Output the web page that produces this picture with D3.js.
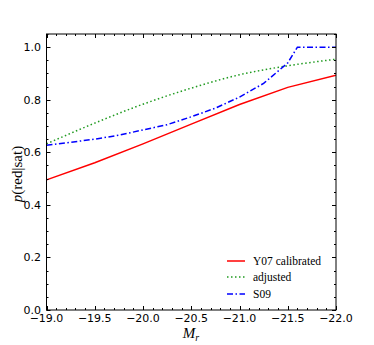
<!DOCTYPE html>
<html><head><meta charset="utf-8">
<script src="https://cdn.jsdelivr.net/npm/d3@7"></script>
<style>body{margin:0;background:#fff}svg{display:block}</style>
</head><body>
<script>
const xTicks = [-19.0, -19.5, -20.0, -20.5, -21.0, -21.5, -22.0];
const yTicks = [0.0, 0.2, 0.4, 0.6, 0.8, 1.0];
const seriesNames = ["Y07 calibrated", "adjusted", "S09"];
const magRed = [-19.0, -19.5, -20.0, -20.5, -21.0, -21.5, -22.0];
const y07 = [0.495, 0.560, 0.632, 0.707, 0.782, 0.847, 0.893];
const magGreen = [-19.0, -19.5, -20.0, -20.5, -21.0, -21.5, -22.0];
const adjusted = [0.632, 0.711, 0.783, 0.844, 0.895, 0.929, 0.954];
const magBlue = [-19.0, -19.25, -19.5, -19.75, -20.0, -20.25, -20.5, -20.75, -21.0, -21.25, -21.5, -21.6, -22.0];
const s09 = [0.627, 0.638, 0.650, 0.665, 0.685, 0.705, 0.735, 0.768, 0.810, 0.862, 0.940, 1.0, 1.0];

const W = 374, H = 345;
const L = 46.5, R = 336, T = 34, B = 310;
const svg = d3.select("body").append("svg").attr("width", W).attr("height", H);
const x = d3.scaleLinear().domain([-19, -22]).range([L, R]);
const y = d3.scaleLinear().domain([0, 1.05]).range([B, T]);

const g = svg.append("g");
const clipId = "clip";
svg.append("clipPath").attr("id", clipId).append("rect").attr("x", L).attr("y", T).attr("width", R - L).attr("height", B - T);

const line = d3.line().x(d => x(d[0])).y(d => y(d[1]));
const lineSmooth = d3.line().x(d => x(d[0])).y(d => y(d[1])).curve(d3.curveMonotoneX);
const zip = (a, b) => a.map((v, i) => [v, b[i]]);
const lines = g.append("g").attr("clip-path", `url(#${clipId})`);
lines.append("path").attr("d", line(zip(magRed, y07))).attr("fill", "none").attr("stroke", "#ff0000").attr("stroke-width", 1.5);
lines.append("path").attr("d", lineSmooth(zip(magGreen, adjusted))).attr("fill", "none").attr("stroke", "#1f9a1f").attr("stroke-width", 1.5).attr("stroke-dasharray", "1.5,2.5");
lines.append("path").attr("d", line(zip(magBlue, s09))).attr("fill", "none").attr("stroke", "#0000ff").attr("stroke-width", 1.5).attr("stroke-dasharray", "6,2.5,1.5,2.5");

// ticks (inside, all four sides)
const minorX = d3.range(-19, -22.0001, -0.1);
const minorY = d3.range(0, 1.05001, 0.05);
const tk = svg.append("g").attr("stroke", "#000").attr("stroke-width", 1);
const r5 = v => Math.round(v) + 0.5;
minorX.forEach(v => {
  const isMajor = Math.abs(v * 2 - Math.round(v * 2)) < 1e-6;
  const len = isMajor ? 4 : 2;
  const px = r5(x(v));
  tk.append("line").attr("x1", px).attr("x2", px).attr("y1", B).attr("y2", B - len);
  tk.append("line").attr("x1", px).attr("x2", px).attr("y1", T).attr("y2", T + len);
});
minorY.forEach(v => {
  const isMajor = Math.abs(v * 5 - Math.round(v * 5)) < 1e-6;
  const len = isMajor ? 4 : 2;
  const py = r5(y(v));
  tk.append("line").attr("y1", py).attr("y2", py).attr("x1", L).attr("x2", L + len);
  tk.append("line").attr("y1", py).attr("y2", py).attr("x1", R).attr("x2", R - len);
});

svg.append("rect").attr("x", L).attr("y", T).attr("width", R - L).attr("height", B - T)
  .attr("fill", "none").attr("stroke", "#000").attr("stroke-width", 1);

const fmt = v => (v < 0 ? "\u2212" : "") + Math.abs(v).toFixed(1);
const tickFont = "DejaVu Sans";
svg.append("g").selectAll("text").data(xTicks).join("text")
  .attr("x", d => x(d)).attr("y", 322).attr("text-anchor", "middle")
  .attr("font-family", tickFont).attr("font-size", 11).attr("fill", "#000").text(fmt);
svg.append("g").selectAll("text").data(yTicks).join("text")
  .attr("x", 41).attr("y", d => y(d) + 4).attr("text-anchor", "end")
  .attr("font-family", tickFont).attr("font-size", 11).attr("fill", "#000").text(fmt);

// axis labels
const xl = svg.append("text").attr("x", 191).attr("y", 338).attr("text-anchor", "middle")
  .attr("font-family", "Liberation Serif, DejaVu Serif, serif").attr("font-size", 15).attr("fill", "#000");
xl.append("tspan").attr("font-style", "italic").text("M");
xl.append("tspan").attr("font-style", "italic").attr("font-size", 10).attr("dy", 3).text("r");

const yl = svg.append("text").attr("transform", "translate(22,174) rotate(-90)").attr("text-anchor", "middle")
  .attr("font-family", "Liberation Serif, DejaVu Serif, serif").attr("font-size", 15).attr("fill", "#000");
yl.append("tspan").attr("font-style", "italic").text("p");
yl.append("tspan").text("(red|sat)");

// legend
const legY = [261, 277, 294];
const legStyles = [
  {c: "#ff0000", d: null},
  {c: "#1f9a1f", d: "1.5,2.5"},
  {c: "#0000ff", d: "6,2.5,1.5,2.5"}
];
const leg = svg.append("g");
seriesNames.forEach((n, i) => {
  const l = leg.append("line").attr("x1", 227).attr("x2", 245).attr("y1", legY[i]).attr("y2", legY[i])
    .attr("stroke", legStyles[i].c).attr("stroke-width", 1.5);
  if (legStyles[i].d) l.attr("stroke-dasharray", legStyles[i].d);
  leg.append("text").attr("x", 253).attr("y", legY[i] + 4).attr("font-family", "Liberation Serif, DejaVu Serif, serif")
    .attr("font-size", 11.5).attr("fill", "#000").text(n);
});
</script>
</body></html>
